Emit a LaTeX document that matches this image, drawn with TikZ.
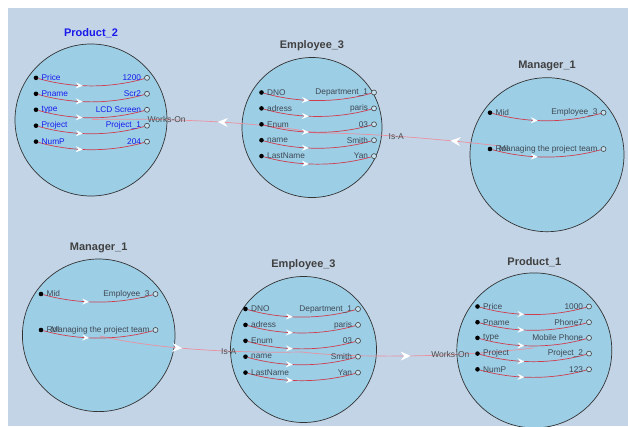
\documentclass[tikz,border=0pt]{standalone}
\usepackage{fontspec}
\setmainfont{Liberation Sans}
\usetikzlibrary{positioning, arrows.meta, decorations.markings}
\definecolor{bgblue}{RGB}{194,212,230}
\definecolor{entfill}{RGB}{156,206,230}
\definecolor{rowred}{RGB}{208,62,78}
\definecolor{linkpink}{RGB}{235,145,160}
\definecolor{rowtxt}{RGB}{62,72,82}
\definecolor{prodblue}{RGB}{25,25,235}

\begin{document}
\begin{tikzpicture}[x=1pt, y=-1pt,
  entity/.style={circle, draw=black!80, line width=0.7pt, fill=entfill, inner sep=0pt},
  enttitle/.style={font=\fontsize{11}{13}\selectfont\bfseries, text=black!75, inner sep=0pt},
  dot/.style={circle, fill=black, inner sep=0pt, minimum size=4.6pt},
  hole/.style={circle, draw=black!75, fill=entfill!60!white, line width=0.6pt, inner sep=0pt, minimum size=5pt},
  attr/.style={rowred, line width=0.7pt, postaction={decorate, decoration={markings,
    mark=at position 0.42 with {\arrow{Stealth[white, length=7pt, width=6pt, inset=2.5pt]}}}}},
  link/.style={linkpink, line width=0.7pt, postaction={decorate, decoration={markings,
    mark=at position #1 with {\arrow{Stealth[white, length=10pt, width=9pt, inset=3.5pt]}}}}},
  lab/.style={font=\fontsize{8.3}{9}\selectfont, text=rowtxt, inner sep=0pt},
  linklab/.style={font=\fontsize{8.5}{10}\selectfont, text=black!70, inner sep=0pt}]
  \useasboundingbox (0,0) rectangle (628,426);
  \fill[bgblue] (8,8) rectangle (628,426);

  % entities
  \node[entity, minimum size=152pt] (p2) at (91,120) {};
  \node[entity, minimum size=140pt] (e3a) at (312,127.5) {};
  \node[entity, minimum size=154pt] (m1a) at (547,154.7) {};
  \node[entity, minimum size=152.6pt] (m1b) at (98.7,335.3) {};
  \node[entity, minimum size=146pt] (e3b) at (303.5,349.5) {};
  \node[entity, minimum size=155pt] (p1) at (534.3,350.4) {};
  \node[enttitle, text=prodblue, above=6pt of p2] {Product\_2};
  \node[enttitle, above=6pt of e3a] {Employee\_3};
  \node[enttitle, above=6pt of m1a] {Manager\_1};
  \node[enttitle, above=6pt of m1b] {Manager\_1};
  \node[enttitle, above=6pt of e3b] {Employee\_3};
  \node[enttitle, above=6pt of p1] {Product\_1};

  % links
  \coordinate (p2c) at (92,119.5);
  \coordinate (e3ac) at (316,133);
  \coordinate (m1ac) at (500,146);
  \coordinate (m1bc) at (100,336);
  \coordinate (e3bc) at (302,352);
  \coordinate (p1c) at (533,348);
  \draw[link=0.44] (e3ac) .. controls (260,122) and (170,118) .. (p2c) node[linklab, pos=0.69] {Works-On};
  \draw[link=0.27] (m1ac) .. controls (440,139) and (370,133) .. (e3ac) node[linklab, pos=0.55] {Is-A};
  \draw[link=0.41] (m1bc) .. controls (160,350) and (240,353) .. (e3bc) node[linklab, pos=0.635] {Is-A};
  \draw[link=0.47] (e3bc) .. controls (350,358) and (450,358) .. (p1c) node[linklab, pos=0.68] {Works-On};

  % attributes
  \foreach \lab/\val [count=\i] in {Price/1200, Pname/Scr2, type/LCD Screen, Project/Project\_1, NumP/204} {
    \node[dot] (p2d\i) at (36,61.9+15.95*\i) {};
    \node[hole] (p2h\i) at (147,61.9+15.95*\i) {};
    \draw[attr] (p2d\i) .. controls +(37,10.5) and +(-37,10.5) .. (p2h\i);
    \node[lab, text=prodblue, right=3pt of p2d\i] {\lab};
    \node[lab, text=prodblue, left=3pt of p2h\i] {\val};
  }
  \foreach \lab/\val [count=\i] in {DNO/Department\_1, adress/paris, Enum/03, name/Smith, LastName/Yan} {
    \node[dot] (e3ad\i) at (261.5,76.6+15.9*\i) {};
    \node[hole] (e3ah\i) at (374,76.6+15.9*\i) {};
    \draw[attr] (e3ad\i) .. controls +(37,10.5) and +(-37,10.5) .. (e3ah\i);
    \node[lab, right=3pt of e3ad\i] {\lab};
    \node[lab, left=3pt of e3ah\i] {\val};
  }
  \foreach \lab/\val [count=\i] in {Mid/Employee\_3, Rol/Managing the project team} {
    \node[dot] (m1ad\i) at (490,76.4+36.3*\i) {};
    \node[hole] (m1ah\i) at (603.5,76.4+36.3*\i) {};
    \draw[attr] (m1ad\i) .. controls +(38,10.5) and +(-38,10.5) .. (m1ah\i);
    \node[lab, right=3pt of m1ad\i] {\lab};
    \node[lab, left=3pt of m1ah\i] {\val};
  }
  \foreach \lab/\val [count=\i] in {Mid/Employee\_3, Rol/Managing the project team} {
    \node[dot] (m1bd\i) at (41,258+36*\i) {};
    \node[hole] (m1bh\i) at (155.5,258+36*\i) {};
    \draw[attr] (m1bd\i) .. controls +(38,10.5) and +(-38,10.5) .. (m1bh\i);
    \node[lab, right=3pt of m1bd\i] {\lab};
    \node[lab, left=3pt of m1bh\i] {\val};
  }
  \foreach \lab/\val [count=\i] in {DNO/Department\_1, adress/paris, Enum/03, name/Smith, LastName/Yan} {
    \node[dot] (e3bd\i) at (245.5,293.1+15.9*\i) {};
    \node[hole] (e3bh\i) at (358,293.1+15.9*\i) {};
    \draw[attr] (e3bd\i) .. controls +(37,10.5) and +(-37,10.5) .. (e3bh\i);
    \node[lab, right=3pt of e3bd\i] {\lab};
    \node[lab, left=3pt of e3bh\i] {\val};
  }
  \foreach \lab/\val [count=\i] in {Price/1000, Pname/Phone7, type/Mobile Phone, Project/Project\_2, NumP/123} {
    \node[dot] (p1d\i) at (477.5,290.8+15.7*\i) {};
    \node[hole] (p1h\i) at (589,290.8+15.7*\i) {};
    \draw[attr] (p1d\i) .. controls +(37,10.5) and +(-37,10.5) .. (p1h\i);
    \node[lab, right=3pt of p1d\i] {\lab};
    \node[lab, left=3pt of p1h\i] {\val};
  }
\end{tikzpicture}
\end{document}
